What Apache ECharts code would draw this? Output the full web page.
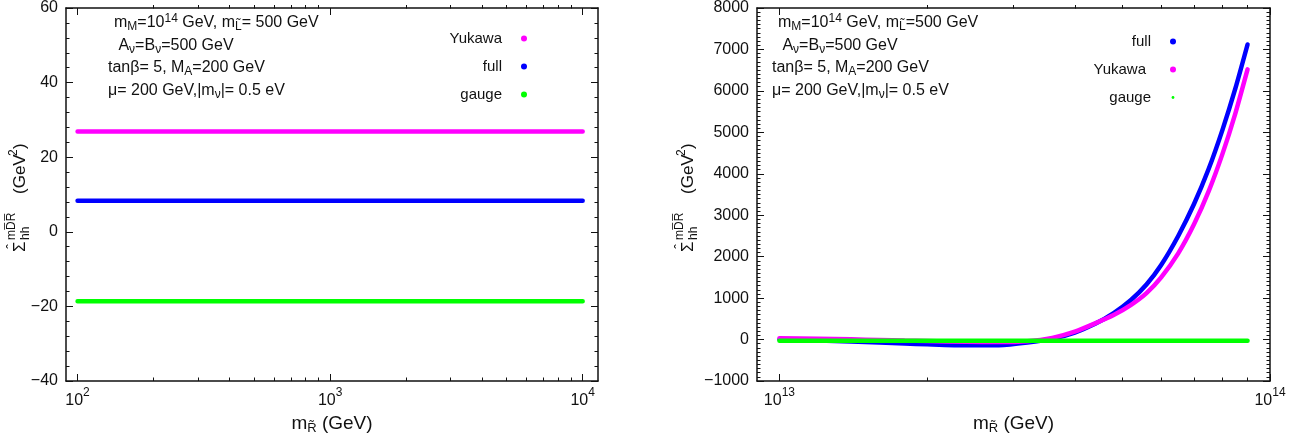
<!DOCTYPE html>
<html>
<head>
<meta charset="utf-8">
<script src="https://cdn.jsdelivr.net/npm/echarts@6/dist/echarts.min.js"></script>
<style>
  html, body { margin: 0; padding: 0; background: #fff; }
  #chart { width: 1313px; height: 441px; }
</style>
</head>
<body>
<div id="chart"></div>
<script>
// ---- left panel: m_R in GeV ----
const leftMass = [100, 300, 1000, 3000, 10000];
const leftYukawa = [26.9, 26.9, 26.9, 26.9, 26.9];
const leftFull = [8.3, 8.3, 8.3, 8.3, 8.3];
const leftGauge = [-18.6, -18.6, -18.6, -18.6, -18.6];
const leftMajorTicks = [100, 1000, 10000];
const leftMinorTicks = [200, 300, 400, 500, 600, 700, 800, 900, 2000, 3000, 4000, 5000, 6000, 7000, 8000, 9000];

// ---- right panel: m_R in GeV ----
const rightMass = [1.0e13, 1.2e13, 1.4e13, 1.6e13, 1.8e13, 2.0e13, 2.4e13, 2.8e13, 3.2e13, 3.6e13, 4.0e13,
                   4.4e13, 4.8e13, 5.2e13, 5.6e13, 6.0e13, 6.5e13, 7.0e13, 7.5e13, 8.0e13, 8.5e13, 9.0e13];
const rightFull = [0, -20, -45, -70, -95, -115, -140, -135, -70, 20, 170,
                   380, 640, 950, 1330, 1800, 2500, 3270, 4120, 5060, 6060, 7120];
const rightYukawa = [30, 20, 5, -10, -25, -35, -55, -60, -40, 40, 190,
                     390, 590, 830, 1120, 1500, 2080, 2780, 3580, 4480, 5460, 6520];
const rightGauge = [-30, -30, -30, -30, -30, -30, -30, -30, -30, -30, -30,
                    -30, -30, -30, -30, -30, -30, -30, -30, -30, -30, -30];
const rightMajorTicks = [1e13, 1e14];
const rightMinorTicks = [2e13, 3e13, 4e13, 5e13, 6e13, 7e13, 8e13, 9e13];

const FONT = '"Liberation Sans", Arial, sans-serif';
const INK = '#111';
const MAGENTA = '#ff00ff', BLUE = '#0000ff', GREEN = '#00ff00';

const leftBox = { left: 66, top: 5, width: 532, height: 376 };
const rightBox = { left: 757, top: 5, width: 513, height: 376 };

const supRich = {
  sup: { fontSize: 12, fontFamily: FONT, color: INK, padding: [0, 0, 16, 0] }
};

function pairs(xs, ys) {
  return xs.map((x, i) => [Math.log10(x), ys[i]]);
}

function mainX(gridIndex, min, max, ticks, pos) {
  const bottom = pos === 'bottom';
  return {
    type: 'value', gridIndex: gridIndex, position: pos, min: min, max: max,
    axisLine: { show: true, onZero: false, lineStyle: { color: INK, width: 1.5 } },
    axisTick: { show: true, inside: true, length: 7, customValues: ticks.map(Math.log10), lineStyle: { color: INK, width: 1 } },
    axisLabel: {
      show: bottom, customValues: ticks.map(Math.log10), margin: 6,
      formatter: v => '10{sup|' + Math.round(v) + '}',
      fontSize: 16, fontFamily: FONT, color: INK, rich: supRich
    },
    splitLine: { show: false },
    name: bottom ? 'm{sub|R̃} (GeV)' : '',
    nameLocation: 'middle', nameGap: 28,
    nameTextStyle: { fontSize: 19, fontFamily: FONT, color: INK, rich: {
      sub: { fontSize: 13, fontFamily: FONT, color: INK, padding: [10, 0, 0, 0] } } }
  };
}

function minorX(gridIndex, min, max, ticks, pos) {
  return {
    type: 'value', gridIndex: gridIndex, position: pos, min: min, max: max,
    axisLine: { show: false, onZero: false },
    axisTick: { show: true, inside: true, length: 3.5, customValues: ticks.map(Math.log10), lineStyle: { color: INK, width: 1 } },
    axisLabel: { show: false },
    splitLine: { show: false }
  };
}

function mainY(gridIndex, min, max, interval, split, pos) {
  const left = pos === 'left';
  return {
    type: 'value', gridIndex: gridIndex, position: pos, min: min, max: max, interval: interval,
    axisLine: { show: true, onZero: false, lineStyle: { color: INK, width: 1.5 } },
    axisTick: { show: true, inside: true, length: 7, lineStyle: { color: INK, width: 1 } },
    minorTick: { show: true, splitNumber: split, length: 3.5, lineStyle: { color: INK, width: 1 } },
    axisLabel: {
      show: left, margin: 8, fontSize: 16, fontFamily: FONT, color: INK,
      formatter: v => String(v).replace('-', '\u2212')
    },
    splitLine: { show: false }
  };
}

function hiddenY(gridIndex) {
  return { type: 'value', gridIndex: gridIndex, min: 0, max: 1, show: false };
}

function lineSeries(name, xi, yi, data, color, z) {
  return {
    type: 'line', name: name, xAxisIndex: xi, yAxisIndex: yi, data: data,
    showSymbol: false, symbol: 'circle', smooth: 0.2, z: z,
    lineStyle: { width: 4.5, color: color, cap: 'round' },
    itemStyle: { color: color },
    emphasis: { disabled: true }
  };
}

function note(x, y, text) {
  return {
    type: 'text', x: x, y: y, silent: true,
    style: {
      text: text, fill: INK, font: '16px ' + FONT, verticalAlign: 'middle',
      rich: {
        sup: { fontSize: 12, fontFamily: FONT, fill: INK, padding: [0, 0, 9, 0] },
        sub: { fontSize: 12, fontFamily: FONT, fill: INK, padding: [8, 0, 0, 0] }
      }
    }
  };
}

function yTitle(x, y) {
  const txt = (lx, ly, s, size, align) => ({
    type: 'text', x: lx, y: ly, silent: true,
    style: { text: s, fill: INK, font: size + 'px ' + FONT, verticalAlign: 'middle', align: align || 'left' }
  });
  return {
    type: 'group', x: x, y: y, rotation: Math.PI / 2, silent: true,
    children: [
      txt(0, 0, 'Σ', 17),
      txt(5.5, -7, 'ˆ', 14, 'center'),
      txt(12, -8, 'mD̅R̅', 12),
      txt(12, 6, 'hh', 12),
      txt(58, 0, '(GeV', 17),
      txt(96, -6, '2', 12),
      txt(103, 0, ')', 17)
    ]
  };
}

const notes = [
  'm{sub|M}=10{sup|14} GeV, m{sub|L̃}= 500 GeV',
  ' A{sub|ν}=B{sub|ν}=500 GeV',
  'tanβ= 5, M{sub|A}=200 GeV',
  'μ= 200 GeV,|m{sub|ν}|= 0.5 eV'
];
const notesRight = [
  'm{sub|M}=10{sup|14} GeV, m{sub|L̃}=500 GeV',
  ' A{sub|ν}=B{sub|ν}=500 GeV',
  'tanβ= 5, M{sub|A}=200 GeV',
  'μ= 200 GeV,|m{sub|ν}|= 0.5 eV'
];
const noteRows = [23, 46, 68, 91];

const lMin = Math.log10(90), lMax = Math.log10(11500);
const rMin = Math.log10(9e12), rMax = 14;

const legendText = { fontSize: 15, fontFamily: FONT, color: INK, padding: [0, 14, 0, 0] };
const tinyGreenDot = 'image://data:image/svg+xml;utf8,' + encodeURIComponent(
  '<svg xmlns="http://www.w3.org/2000/svg" width="6" height="6"><circle cx="3" cy="3" r="1.4" fill="#00ff00"/></svg>');

const chart = echarts.init(document.getElementById('chart'), null, { renderer: 'canvas' });
chart.setOption({
  animation: false,
  backgroundColor: '#fff',
  grid: [
    Object.assign({}, leftBox), Object.assign({}, leftBox),
    Object.assign({}, rightBox), Object.assign({}, rightBox)
  ],
  xAxis: [
    mainX(0, lMin, lMax, leftMajorTicks, 'bottom'),
    mainX(0, lMin, lMax, leftMajorTicks, 'top'),
    minorX(1, lMin, lMax, leftMinorTicks, 'bottom'),
    minorX(1, lMin, lMax, leftMinorTicks, 'top'),
    mainX(2, rMin, rMax, rightMajorTicks, 'bottom'),
    mainX(2, rMin, rMax, rightMajorTicks, 'top'),
    minorX(3, rMin, rMax, rightMinorTicks, 'bottom'),
    minorX(3, rMin, rMax, rightMinorTicks, 'top')
  ],
  yAxis: [
    mainY(0, -40, 60, 20, 5, 'left'),
    mainY(0, -40, 60, 20, 5, 'right'),
    hiddenY(1),
    mainY(2, -1000, 8000, 1000, 10, 'left'),
    mainY(2, -1000, 8000, 1000, 10, 'right'),
    hiddenY(3)
  ],
  legend: [
    {
      data: ['Yukawa', 'full', 'gauge'], orient: 'vertical', align: 'right',
      right: 786, top: 31, padding: 0, itemGap: 13, itemWidth: 6, itemHeight: 6, icon: 'circle',
      textStyle: legendText, selectedMode: false
    },
    {
      data: ['full', { name: 'Yukawa', textStyle: { padding: [0, 19, 0, 0] } }, { name: 'gauge', icon: tinyGreenDot }],
      orient: 'vertical', align: 'right',
      right: 137, top: 34, padding: 0, itemGap: 13, itemWidth: 6, itemHeight: 6, icon: 'circle',
      textStyle: legendText, selectedMode: false
    }
  ],
  series: [
    lineSeries('Yukawa', 0, 0, pairs(leftMass, leftYukawa), MAGENTA, 2),
    lineSeries('full', 0, 0, pairs(leftMass, leftFull), BLUE, 3),
    lineSeries('gauge', 0, 0, pairs(leftMass, leftGauge), GREEN, 4),
    lineSeries('full', 4, 3, pairs(rightMass, rightFull), BLUE, 2),
    lineSeries('Yukawa', 4, 3, pairs(rightMass, rightYukawa), MAGENTA, 3),
    lineSeries('gauge', 4, 3, pairs(rightMass, rightGauge), GREEN, 4)
  ],
  graphic: [
    yTitle(20, 252),
    yTitle(688, 252)
  ].concat(
    notes.map((t, i) => note(i < 2 ? 114 : 108, noteRows[i], t)),
    notesRight.map((t, i) => note(i < 2 ? 778 : 772, noteRows[i], t))
  )
});
</script>
</body>
</html>
